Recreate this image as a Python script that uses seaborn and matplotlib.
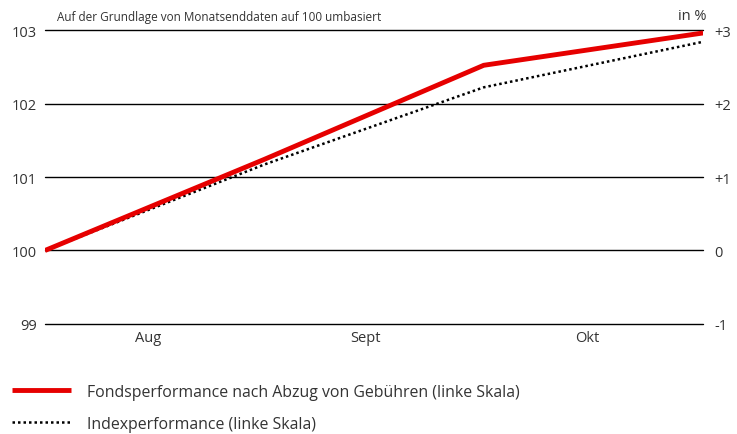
import matplotlib
matplotlib.use("Agg")
import matplotlib.pyplot as plt
import seaborn as sns
import pandas as pd
from matplotlib.lines import Line2D

sns.set_style("white")
plt.rcParams['font.family'] = ['Open Sans', 'DejaVu Sans']

# Data (month-end index positions 0..3 = end Jul, Aug, Sep, Oct)
positions = [0, 1, 2, 3]
fund_values = [100.0, 101.24, 102.52, 102.96]
index_values = [100.0, 101.17, 102.22, 102.84]
month_labels = ["Aug", "Sept", "Okt"]
month_label_pos = [0.47, 1.46, 2.47]
left_ticks = [99, 100, 101, 102, 103]
right_ticks = ["-1", "0", "+1", "+2", "+3"]
fund_label = "Fondsperformance nach Abzug von Gebühren (linke Skala)"
index_label = "Indexperformance (linke Skala)"
title = "Auf der Grundlage von Monatsenddaten auf 100 umbasiert"
unit = "in %"

df = pd.DataFrame({"pos": positions * 2,
                   "value": fund_values + index_values,
                   "series": [fund_label] * 4 + [index_label] * 4})

txt = "#333333"
fig = plt.figure(figsize=(7.37, 4.35), dpi=100)
ax = fig.add_axes([0.061, 0.2529, 0.893, 0.6758])

for y in left_ticks:
    ax.axhline(y, color="black", lw=1.0, zorder=1, clip_on=False)

sns.lineplot(data=df[df.series == index_label], x="pos", y="value", ax=ax,
             color="black", lw=1.8, linestyle=(0, (1, 1.2)), zorder=2, legend=False)
sns.lineplot(data=df[df.series == fund_label], x="pos", y="value", ax=ax,
             color="#e60000", lw=3.5, zorder=3, legend=False, solid_capstyle="butt")

ax.set_xlim(0, 3)
ax.set_ylim(99, 103)
ax.set_yticks(left_ticks)
ax.set_yticklabels([str(t) for t in left_ticks], color=txt, fontsize=10.5)
ax.set_xticks(month_label_pos)
ax.set_xticklabels(month_labels, color=txt, fontsize=10.5)
ax.tick_params(axis="both", length=0, pad=6)
ax.tick_params(axis="x", pad=4)
ax.set_xlabel("")
ax.set_ylabel("")
for s in ax.spines.values():
    s.set_visible(False)

ax2 = ax.twinx()
ax2.set_ylim(-1, 3)
ax2.set_yticks([-1, 0, 1, 2, 3])
ax2.set_yticklabels(right_ticks, color=txt, fontsize=10.5)
ax2.tick_params(axis="y", length=0, pad=8)
for s in ax2.spines.values():
    s.set_visible(False)

fig.text(57 / 737, 1 - 17 / 435, title, color=txt, fontsize=8.5, va="center", ha="left")
fig.text(706 / 737, 1 - 17 / 435, unit, color=txt, fontsize=10.5, va="center", ha="right")

handles = [Line2D([], [], color="#e60000", lw=3.5, solid_capstyle="butt"),
           Line2D([], [], color="black", lw=1.8, linestyle=(0, (1, 1.2)))]
leg = fig.legend(handles, [fund_label, index_label], loc="upper left",
                 bbox_to_anchor=(0.008, 0.13), frameon=False, fontsize=11.4,
                 handlelength=3.7, handletextpad=1.0, labelspacing=1.0,
                 borderaxespad=0)
for t in leg.get_texts():
    t.set_color(txt)

fig.savefig("out.png", dpi=100)
